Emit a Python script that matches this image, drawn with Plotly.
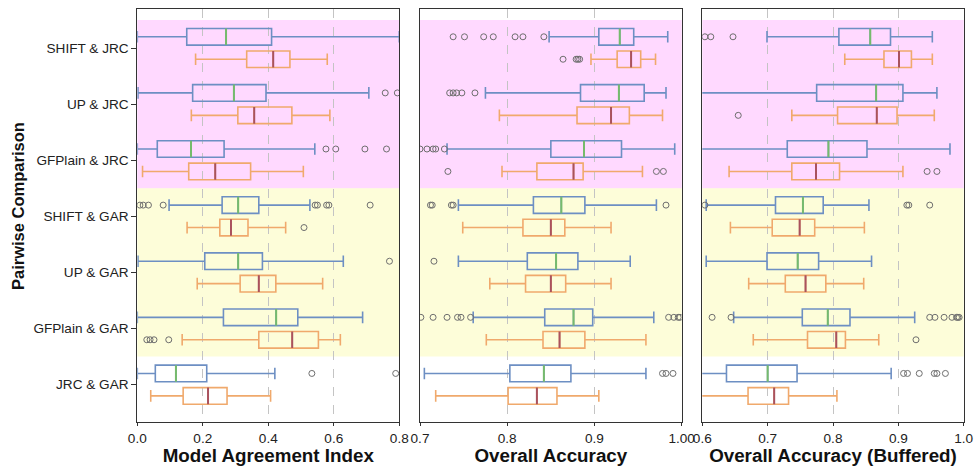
import plotly.graph_objects as go

categories = ["SHIFT & JRC", "UP & JRC", "GFPlain & JRC", "SHIFT & GAR",
              "UP & GAR", "GFPlain & GAR", "JRC & GAR"]

# ---------------- Panel 1: Model Agreement Index ----------------
mai_blue_lo  = [0.000, 0.002, 0.000, 0.097, 0.002, 0.000, 0.000]
mai_blue_q1  = [0.151, 0.169, 0.061, 0.259, 0.206, 0.263, 0.055]
mai_blue_med = [0.271, 0.295, 0.164, 0.308, 0.308, 0.424, 0.118]
mai_blue_q3  = [0.410, 0.393, 0.265, 0.371, 0.382, 0.490, 0.212]
mai_blue_hi  = [0.800, 0.707, 0.542, 0.527, 0.629, 0.688, 0.420]
mai_blue_out = [[], [0.757, 0.794], [0.576, 0.606, 0.695, 0.761],
                [0.008, 0.018, 0.034, 0.079, 0.543, 0.550, 0.578, 0.585, 0.711],
                [0.770], [], [0.533, 0.789]]

mai_orange_lo  = [0.178, 0.165, 0.016, 0.152, 0.183, 0.137, 0.041]
mai_orange_q1  = [0.334, 0.307, 0.157, 0.252, 0.314, 0.371, 0.140]
mai_orange_med = [0.415, 0.357, 0.238, 0.286, 0.371, 0.473, 0.216]
mai_orange_q3  = [0.466, 0.472, 0.346, 0.338, 0.423, 0.553, 0.274]
mai_orange_hi  = [0.580, 0.588, 0.507, 0.453, 0.566, 0.620, 0.407]
mai_orange_out = [[], [], [], [0.509], [], [0.029, 0.039, 0.051, 0.096], []]

# ---------------- Panel 2: Overall Accuracy ----------------
oa_blue_lo  = [0.848, 0.775, 0.731, 0.744, 0.744, 0.761, 0.705]
oa_blue_q1  = [0.905, 0.884, 0.850, 0.830, 0.823, 0.843, 0.803]
oa_blue_med = [0.929, 0.928, 0.888, 0.862, 0.856, 0.876, 0.842]
oa_blue_q3  = [0.945, 0.957, 0.931, 0.889, 0.881, 0.898, 0.873]
oa_blue_hi  = [0.984, 0.982, 0.992, 0.971, 0.941, 0.968, 0.959]
oa_blue_out = [[0.738, 0.751, 0.773, 0.784, 0.809, 0.818, 0.842],
               [0.734, 0.738, 0.742, 0.748, 0.763],
               [0.700, 0.708, 0.715, 0.718, 0.728],
               [0.712, 0.714, 0.736, 0.738, 0.982],
               [0.716],
               [0.701, 0.715, 0.731, 0.743, 0.747, 0.758, 0.985, 0.991, 0.996, 0.998],
               [0.978, 0.982, 0.990]]

oa_orange_lo  = [0.896, 0.791, 0.794, 0.749, 0.780, 0.776, 0.718]
oa_orange_q1  = [0.926, 0.880, 0.834, 0.818, 0.821, 0.841, 0.801]
oa_orange_med = [0.942, 0.919, 0.876, 0.850, 0.850, 0.860, 0.834]
oa_orange_q3  = [0.953, 0.940, 0.887, 0.866, 0.867, 0.889, 0.857]
oa_orange_hi  = [0.970, 0.978, 0.955, 0.919, 0.919, 0.959, 0.905]
oa_orange_out = [[0.864, 0.879, 0.881, 0.883], [], [0.732, 0.971, 0.979], [], [], [], []]

# ---------------- Panel 3: Overall Accuracy (Buffered) ----------------
oab_blue_lo  = [0.699, 0.590, 0.590, 0.606, 0.606, 0.648, 0.590]
oab_blue_q1  = [0.809, 0.775, 0.730, 0.712, 0.699, 0.753, 0.637]
oab_blue_med = [0.857, 0.866, 0.793, 0.754, 0.746, 0.792, 0.700]
oab_blue_q3  = [0.888, 0.907, 0.852, 0.785, 0.778, 0.826, 0.745]
oab_blue_hi  = [0.952, 0.959, 0.979, 0.855, 0.859, 0.925, 0.889]
oab_blue_out = [[0.604, 0.613, 0.647], [], [],
                [0.604, 0.913, 0.916, 0.948], [],
                [0.615, 0.644, 0.948, 0.956, 0.970, 0.982, 0.989, 0.991, 0.993],
                [0.908, 0.914, 0.932, 0.955, 0.959, 0.972]]

oab_orange_lo  = [0.818, 0.737, 0.641, 0.643, 0.671, 0.678, 0.590]
oab_orange_q1  = [0.878, 0.807, 0.737, 0.707, 0.727, 0.761, 0.670]
oab_orange_med = [0.901, 0.867, 0.774, 0.749, 0.758, 0.805, 0.710]
oab_orange_q3  = [0.920, 0.898, 0.810, 0.772, 0.789, 0.819, 0.732]
oab_orange_hi  = [0.952, 0.955, 0.907, 0.848, 0.847, 0.870, 0.806]
oab_orange_out = [[], [0.655], [0.944, 0.959], [], [], [0.927], []]

x_titles = ["Model Agreement Index", "Overall Accuracy", "Overall Accuracy (Buffered)"]
x_ranges = [[0.0, 0.8], [0.7, 1.0], [0.6, 1.0]]
x_tickvals = [[0.0, 0.2, 0.4, 0.6, 0.8], [0.7, 0.8, 0.9, 1.0], [0.6, 0.7, 0.8, 0.9, 1.0]]
x_ticktext = [["0.0", "0.2", "0.4", "0.6", "0.8"], ["0.7", "0.8", "0.9", "1.00"],
              ["0.6", "0.7", "0.8", "0.9", "1.0"]]

panels = [
    ((mai_blue_lo, mai_blue_q1, mai_blue_med, mai_blue_q3, mai_blue_hi, mai_blue_out),
     (mai_orange_lo, mai_orange_q1, mai_orange_med, mai_orange_q3, mai_orange_hi, mai_orange_out)),
    ((oa_blue_lo, oa_blue_q1, oa_blue_med, oa_blue_q3, oa_blue_hi, oa_blue_out),
     (oa_orange_lo, oa_orange_q1, oa_orange_med, oa_orange_q3, oa_orange_hi, oa_orange_out)),
    ((oab_blue_lo, oab_blue_q1, oab_blue_med, oab_blue_q3, oab_blue_hi, oab_blue_out),
     (oab_orange_lo, oab_orange_q1, oab_orange_med, oab_orange_q3, oab_orange_hi, oab_orange_out)),
]

BLUE = "#6d8fc3"
ORANGE = "#f0a96c"
GREEN = "#76bb6c"
RED = "#a9525e"
OUTC = "#6e6e6e"
CLEAR = "rgba(0,0,0,0)"

FONT = "Liberation Sans, Arial, sans-serif"
W, H = 974, 466
x_domains = [[137.3 / W, 399.3 / W], [420.0 / W, 681.7 / W], [702.3 / W, 963.7 / W]]
y_domain = [(H - 421.7) / H, (H - 9.3) / H]

fig = go.Figure()

for p, (blue, orange) in enumerate(panels):
    xa = "x" if p == 0 else f"x{p + 1}"
    ya = "y" if p == 0 else f"y{p + 1}"
    for series, col, medcol, grp in ((blue, BLUE, GREEN, "a"), (orange, ORANGE, RED, "b")):
        lo, q1, med, q3, hi, out = series
        # box + whiskers
        fig.add_trace(go.Box(
            orientation="h", y=categories, q1=q1, median=med, q3=q3,
            lowerfence=lo, upperfence=hi, boxpoints=False,
            line=dict(color=col, width=1.6), fillcolor=CLEAR,
            whiskerwidth=0.7, offsetgroup=grp, xaxis=xa, yaxis=ya,
            showlegend=False, hoverinfo="skip"))
        # median line in contrasting colour
        fig.add_trace(go.Box(
            orientation="h", y=categories, q1=med, median=med, q3=med,
            lowerfence=med, upperfence=med, boxpoints=False,
            line=dict(color=medcol, width=2), fillcolor=CLEAR,
            whiskerwidth=0, offsetgroup=grp, xaxis=xa, yaxis=ya,
            showlegend=False, hoverinfo="skip"))
        # outliers
        ox, oy = [], []
        for cat, vals in zip(categories, out):
            for v in vals:
                ox.append(v)
                oy.append(cat)
        fig.add_trace(go.Box(
            orientation="h", x=ox, y=oy, boxpoints="all", jitter=0, pointpos=0,
            line=dict(color=CLEAR, width=0), fillcolor=CLEAR, whiskerwidth=0,
            marker=dict(symbol="circle-open", color=OUTC, size=6,
                        line=dict(width=1, color=OUTC)),
            offsetgroup=grp, xaxis=xa, yaxis=ya, showlegend=False, hoverinfo="skip"))

    # background bands
    fig.add_shape(type="rect", xref=f"{xa} domain", yref=ya, x0=0, x1=1, y0=-0.5, y1=2.5,
                  fillcolor="rgba(255,0,255,0.15)", line=dict(width=0), layer="below")
    fig.add_shape(type="rect", xref=f"{xa} domain", yref=ya, x0=0, x1=1, y0=2.5, y1=5.5,
                  fillcolor="rgba(240,240,0,0.15)", line=dict(width=0), layer="below")

layout = dict(
    width=W, height=H, margin=dict(l=0, r=0, t=0, b=0),
    paper_bgcolor="white", plot_bgcolor="white",
    boxmode="group", boxgap=0.2, boxgroupgap=0.26,
    font=dict(family=FONT, size=13.6, color="#222"),
    showlegend=False,
)
for p in range(3):
    xk = "xaxis" if p == 0 else f"xaxis{p + 1}"
    yk = "yaxis" if p == 0 else f"yaxis{p + 1}"
    layout[xk] = dict(
        domain=x_domains[p], anchor="y" if p == 0 else f"y{p + 1}",
        range=x_ranges[p], tickvals=x_tickvals[p], ticktext=x_ticktext[p],
        showgrid=True, gridcolor="#c4c4c4", griddash="dash", gridwidth=1,
        zeroline=False, showline=True, mirror=True, linecolor="#333", linewidth=1,
        ticks="outside", ticklen=3.5, tickcolor="#333", automargin=False,
        tickfont=dict(size=13.6, color="#222", family=FONT),
        title=dict(text=x_titles[p], standoff=2,
                   font=dict(size=18.8, color="#111", family=FONT, weight="bold")),
    )
    ydict = dict(
        domain=y_domain, anchor="x" if p == 0 else f"x{p + 1}",
        type="category", categoryorder="array", categoryarray=categories,
        range=[6.66, -0.69], showgrid=False, zeroline=False,
        showline=True, mirror=True, linecolor="#333", linewidth=1, automargin=False,
    )
    if p == 0:
        ydict.update(ticks="outside", ticklen=5, tickcolor="#333",
                     tickfont=dict(size=13.6, color="#222", family=FONT))
    else:
        ydict.update(matches="y", showticklabels=False, ticks="")
    layout[yk] = ydict

fig.update_layout(**layout)
fig.add_annotation(text="Pairwise Comparison", xref="paper", yref="paper",
                   x=18 / W, y=(H - 206) / H, textangle=-90, showarrow=False,
                   font=dict(size=16.5, color="#111", family=FONT, weight="bold"),
                   xanchor="center", yanchor="middle")

fig.write_html("out.html", config={"displayModeBar": False},
               post_script="document.body.style.margin='0px';document.body.style.overflow='hidden';")
